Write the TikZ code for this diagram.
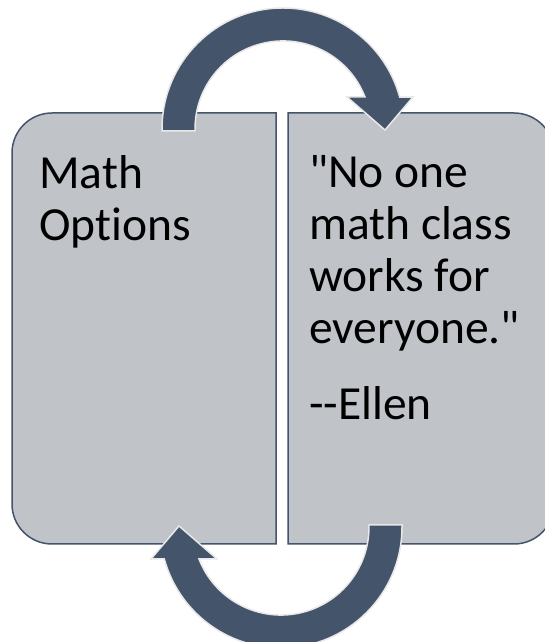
\documentclass[tikz,border=0pt]{standalone}
\usepackage{fontspec}
\newfontfamily\calibri[Ligatures={NoCommon}]{Carlito}
\definecolor{arrowfill}{RGB}{68,84,106}
\definecolor{arrowedge}{RGB}{232,232,232}
\definecolor{boxfill}{RGB}{192,195,200}
\definecolor{boxedge}{RGB}{68,84,106}
\tikzset{
  panel/.style={fill=boxfill, draw=boxedge, line width=1.5pt},
  cyclearrow/.style={fill=arrowfill, draw=arrowedge, line width=1.5pt, line join=miter},
  label/.style={inner sep=0pt, anchor=base west, text=black,
    font=\calibri\fontsize{47.5}{52}\selectfont},
  cyc/.pic={
    \path[cyclearrow] (-121,-2) -- (-121,0)
      arc[start angle=180, end angle=15.3, radius=121]
      -- (130,32) -- (102,-1) -- (64,32) -- (82,32)
      arc[start angle=21.3, end angle=180, radius=88]
      -- (-88,-2) -- cycle;
  }
}
\begin{document}
\begin{tikzpicture}[x=1pt, y=1pt]
\useasboundingbox (0,0) rectangle (545,642);
\clip (0,0) rectangle (545,642);
% panels
\path[panel] (276,98) -- (52,98) arc[start angle=270, end angle=180, radius=40]
  -- (12,489) arc[start angle=180, end angle=90, radius=40] -- (276,529) -- cycle;
\path[panel] (288,98) -- (514,98) arc[start angle=270, end angle=360, radius=40]
  -- (554,489) arc[start angle=0, end angle=90, radius=40] -- (288,529) -- cycle;
% arrows
\pic at (283,513) {cyc};
\pic[rotate=180] at (281,115) {cyc};
% texts
\node[label] (lefttext) at (39,453) {\parbox[t]{230pt}{\raggedright Math\\Options}};
\node[label] (righttext) at (309,454) {\parbox[t]{240pt}{\raggedright "No one\\math class\\works for\\everyone."\par\vspace{24pt}-{}-Ellen}};
\end{tikzpicture}
\end{document}
